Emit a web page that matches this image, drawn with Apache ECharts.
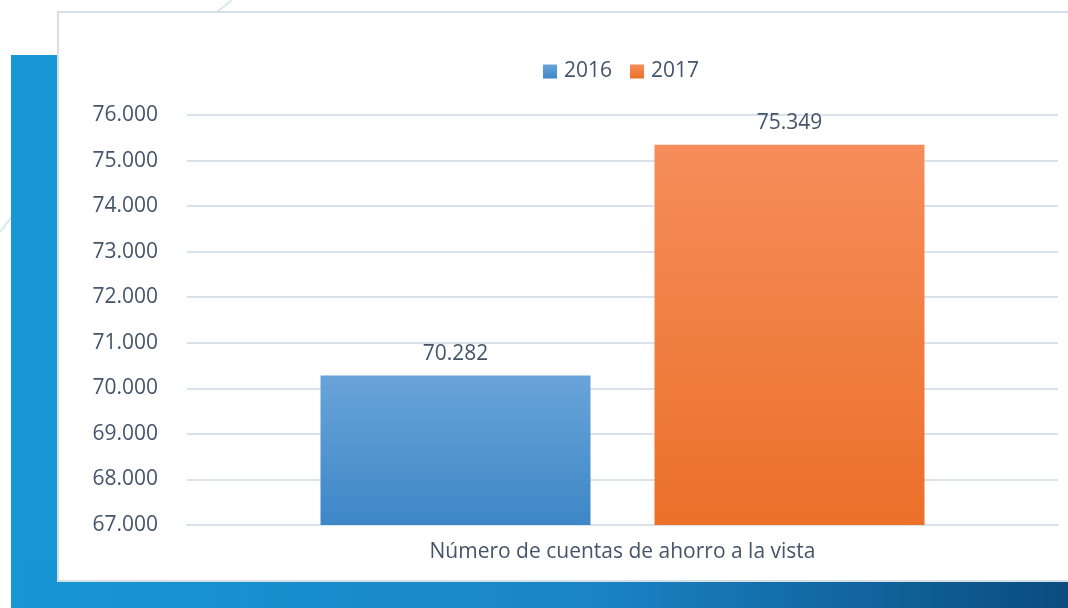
<!DOCTYPE html>
<html>
<head>
<meta charset="utf-8">
<script src="https://cdn.jsdelivr.net/npm/echarts@6/dist/echarts.min.js"></script>
<style>
html, body { margin: 0; padding: 0; background: #fff; }
#chart { width: 1068px; height: 608px; }
</style>
</head>
<body>
<div id="chart"></div>
<script>
// data
var categories = ['Número de cuentas de ahorro a la vista'];
var years = ['2016', '2017'];
var values2016 = [70282];
var values2017 = [75349];
var yMin = 67000, yMax = 76000, yStep = 1000;

function fmt(v) {
    return String(v).replace(/\B(?=(\d{3})+(?!\d))/g, '.');
}

var textColor = '#44546a';
var font = '"Open Sans", "Noto Sans", sans-serif';
var fs = 21;

var chart = echarts.init(document.getElementById('chart'));
var option = {
    animation: false,
    textStyle: { fontFamily: font },
    graphic: [
        // faint background lines
        { type: 'line', z: -20, shape: { x1: 205, y1: 22, x2: 232, y2: 0 }, style: { stroke: '#d6eaee', lineWidth: 2 } },
        { type: 'line', z: -20, shape: { x1: 0, y1: 232, x2: 14, y2: 214 }, style: { stroke: '#d6eaee', lineWidth: 2 } },
        // blue frame behind the panel
        { type: 'rect', z: -15, shape: { x: 11, y: 55, width: 60, height: 553 }, style: { fill: '#1797d4' } },
        { type: 'rect', z: -15, shape: { x: 11, y: 560, width: 1057, height: 48 },
          style: { fill: new echarts.graphic.LinearGradient(0, 0, 1, 0, [
              { offset: 0, color: '#1797d4' },
              { offset: 0.55, color: '#1a84c6' },
              { offset: 1, color: '#0a4c7f' }
          ]) } },
        // white panel
        { type: 'rect', z: -10, shape: { x: 58, y: 12, width: 1020, height: 569 },
          style: { fill: '#ffffff', stroke: '#d5dfe6', lineWidth: 2 } }
    ],
    legend: {
        data: years,
        top: 56,
        left: 538,
        itemWidth: 14,
        itemHeight: 14,
        itemGap: 18,
        icon: 'rect',
        textStyle: { color: textColor, fontSize: fs, fontFamily: font, padding: [0, 0, 0, 2] }
    },
    grid: { left: 187, right: 10, top: 115, bottom: 83 },
    xAxis: {
        type: 'category',
        data: categories,
        axisTick: { show: false },
        axisLine: { lineStyle: { color: '#d9e2ea', width: 2 } },
        axisLabel: { color: textColor, fontSize: fs, margin: 17, fontFamily: font }
    },
    yAxis: {
        type: 'value',
        min: yMin,
        max: yMax,
        interval: yStep,
        axisLine: { show: false },
        axisTick: { show: false },
        axisLabel: { color: textColor, fontSize: fs, margin: 29, fontFamily: font, formatter: fmt },
        splitLine: { lineStyle: { color: '#d9e2ea', width: 2 } }
    },
    series: [
        {
            name: years[0],
            type: 'bar',
            data: values2016,
            barWidth: 270,
            barGap: '23.7%',
            itemStyle: {
                color: new echarts.graphic.LinearGradient(0, 0, 0, 1, [
                    { offset: 0, color: '#69a4d8' },
                    { offset: 1, color: '#3d87c7' }
                ])
            },
            label: {
                show: true, position: 'top', distance: 11,
                color: textColor, fontSize: fs, fontFamily: font,
                formatter: function (p) { return fmt(p.value); }
            }
        },
        {
            name: years[1],
            type: 'bar',
            data: values2017,
            barWidth: 270,
            barGap: '23.7%',
            itemStyle: {
                color: new echarts.graphic.LinearGradient(0, 0, 0, 1, [
                    { offset: 0, color: '#f68d5a' },
                    { offset: 1, color: '#eb7029' }
                ])
            },
            label: {
                show: true, position: 'top', distance: 11,
                color: textColor, fontSize: fs, fontFamily: font,
                formatter: function (p) { return fmt(p.value); }
            }
        }
    ]
};
chart.setOption(option);
</script>
</body>
</html>
